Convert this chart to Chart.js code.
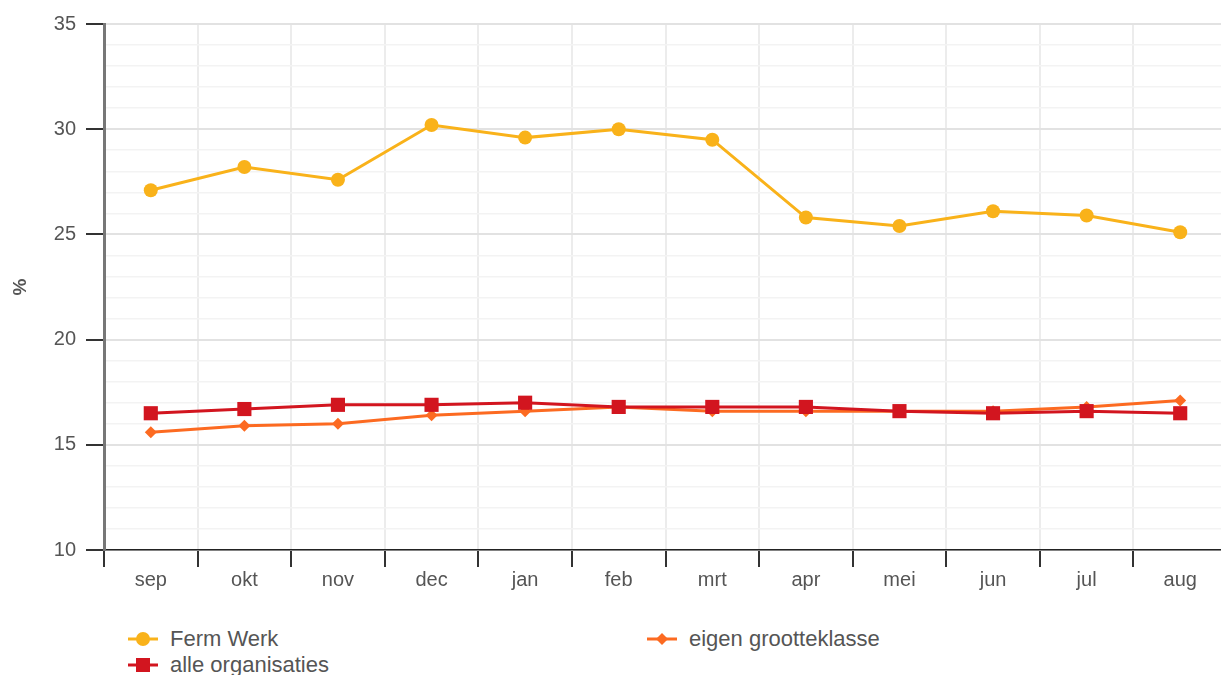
<!DOCTYPE html>
<html>
<head>
<meta charset="utf-8">
<script src="https://cdn.jsdelivr.net/npm/chart.js@4/dist/chart.umd.min.js"></script>
<style>
  html, body { margin: 0; padding: 0; background: #fff; }
  body { width: 1221px; height: 675px; overflow: hidden; position: relative; font-family: "Liberation Sans", Arial, sans-serif; }
  #myChart { position: absolute; left: 0; top: 0; }
  .legend-item { position: absolute; display: flex; align-items: center; color: #555; font-size: 22px; white-space: nowrap; }
  .legend-item canvas { margin-right: 12px; }
</style>
</head>
<body>
<canvas id="myChart" width="1237" height="600"></canvas>
<div id="legend"></div>
<script>
// maanden (sep t/m aug)
const labels = ['sep', 'okt', 'nov', 'dec', 'jan', 'feb', 'mrt', 'apr', 'mei', 'jun', 'jul', 'aug'];

// percentages per reeks
const fermWerk = [27.1, 28.2, 27.6, 30.2, 29.6, 30.0, 29.5, 25.8, 25.4, 26.1, 25.9, 25.1];
const eigenGrootteklasse = [15.6, 15.9, 16.0, 16.4, 16.6, 16.8, 16.6, 16.6, 16.6, 16.6, 16.8, 17.1];
const alleOrganisaties = [16.5, 16.7, 16.9, 16.9, 17.0, 16.8, 16.8, 16.8, 16.6, 16.5, 16.6, 16.5];

const yMin = 10;
const yMax = 35;

const series = [
    { label: 'Ferm Werk', data: fermWerk, color: '#f9b21a', pointStyle: 'circle', radius: 7, order: 2 },
    { label: 'eigen grootteklasse', data: eigenGrootteklasse, color: '#fc6a21', pointStyle: 'rectRot', radius: 6, order: 1 },
    { label: 'alle organisaties', data: alleOrganisaties, color: '#d2151f', pointStyle: 'rect', radius: 10, order: 0 }
];

const FONT = '"Liberation Sans", Arial, sans-serif';

function buildDatasets() {
    return series.map(s => ({
        label: s.label,
        data: s.data,
        borderColor: s.color,
        backgroundColor: s.color,
        borderWidth: 3,
        pointStyle: s.pointStyle,
        pointRadius: s.radius,
        pointHoverRadius: s.radius,
        pointBorderWidth: 0,
        tension: 0,
        order: s.order
    }));
}

const isMajor = c => c.tick && c.tick.value % 5 === 0;

const ctx = document.getElementById('myChart').getContext('2d');
new Chart(ctx, {
    type: 'line',
    data: { labels, datasets: buildDatasets() },
    options: {
        responsive: false,
        animation: false,
        layout: { padding: { top: 24, right: 0, bottom: 7, left: 0 } },
        plugins: {
            legend: { display: false },
            tooltip: { enabled: false }
        },
        scales: {
            x: {
                offset: true,
                grid: {
                    offset: true,
                    color: '#ececec',
                    lineWidth: 2,
                    tickLength: 17,
                    tickColor: '#333',
                    tickWidth: 2
                },
                border: { color: '#222', width: 1.5 },
                ticks: { color: '#555', font: { family: FONT, size: 20 }, padding: 1 }
            },
            y: {
                min: yMin,
                max: yMax,
                afterFit: scale => { scale.width = 104; },
                title: {
                    display: true,
                    text: '%',
                    color: '#555',
                    font: { family: FONT, size: 19, weight: 'bold' },
                    padding: { top: 9, bottom: 0 }
                },
                grid: {
                    color: c => isMajor(c) ? '#e2e2e2' : '#f3f3f3',
                    lineWidth: c => isMajor(c) ? 2 : 1.5,
                    tickLength: 18,
                    tickColor: c => isMajor(c) ? '#333' : 'rgba(0,0,0,0)',
                    tickWidth: 2
                },
                border: { color: '#777', width: 3 },
                ticks: {
                    stepSize: 1,
                    autoSkip: false,
                    color: '#555',
                    font: { family: FONT, size: 20 },
                    padding: 10,
                    callback: v => (v % 5 === 0 ? v : '')
                }
            }
        }
    }
});

// Legenda in twee kolommen
const legendPos = [
    { left: 128, top: 626 },
    { left: 647, top: 626 },
    { left: 128, top: 652 }
];

function drawMarker(c, s) {
    const g = c.getContext('2d');
    const cx = 15, cy = 13;
    g.strokeStyle = s.color;
    g.fillStyle = s.color;
    g.lineWidth = 3;
    g.beginPath();
    g.moveTo(0, cy);
    g.lineTo(30, cy);
    g.stroke();
    g.beginPath();
    if (s.pointStyle === 'circle') {
        g.arc(cx, cy, 7, 0, Math.PI * 2);
    } else if (s.pointStyle === 'rect') {
        g.rect(cx - 7, cy - 7, 14, 14);
    } else {
        g.moveTo(cx - 6, cy); g.lineTo(cx, cy - 6); g.lineTo(cx + 6, cy); g.lineTo(cx, cy + 6);
        g.closePath();
    }
    g.fill();
}

const legendEl = document.getElementById('legend');
series.forEach((s, i) => {
    const item = document.createElement('div');
    item.className = 'legend-item';
    item.style.left = legendPos[i].left + 'px';
    item.style.top = legendPos[i].top + 'px';
    const icon = document.createElement('canvas');
    icon.width = 30;
    icon.height = 26;
    drawMarker(icon, s);
    const txt = document.createElement('span');
    txt.textContent = s.label;
    item.appendChild(icon);
    item.appendChild(txt);
    legendEl.appendChild(item);
});
</script>
</body>
</html>
